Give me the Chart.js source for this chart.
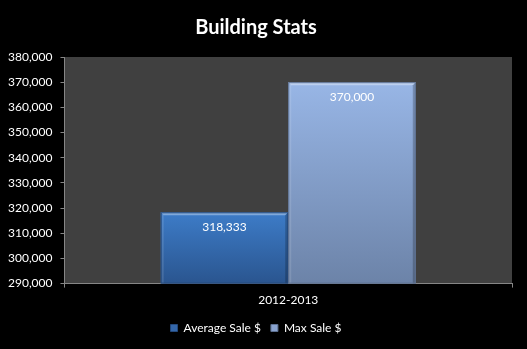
<!DOCTYPE html>
<html>
<head>
<meta charset="utf-8">
<script src="https://cdn.jsdelivr.net/npm/chart.js@4.4.1/dist/chart.umd.min.js"></script>
<style>
  html, body { margin: 0; padding: 0; background: #000; }
  #wrap { width: 527px; height: 349px; position: relative; }
</style>
</head>
<body>
<div id="wrap"><canvas id="stats-chart"></canvas></div>
<script>
// Chart data
const categories = ['2012-2013'];
const seriesNames = ['Average Sale $', 'Max Sale $'];
const averageSale = [318333];
const maxSale = [370000];
const yTickValues = [290000, 300000, 310000, 320000, 330000, 340000, 350000, 360000, 370000, 380000];

// top / bottom colours for each series
const barColors = [
  { top: '#3d7cc8', bottom: '#2a558f', edge: '#24497c', flat: '#3467aa' },
  { top: '#98b6e6', bottom: '#6c83a8', edge: '#5d7192', flat: '#8aa3cf' }
];

const fontFamily = 'Lato, "Open Sans", sans-serif';

function barGradient(idx) {
  return function(context) {
    const chart = context.chart;
    const area = chart.chartArea;
    if (!area || context.type !== 'data') return barColors[idx].flat;
    const y = chart.scales.y;
    const top = y.getPixelForValue(context.raw);
    const g = chart.ctx.createLinearGradient(0, top, 0, area.bottom);
    g.addColorStop(0, barColors[idx].top);
    g.addColorStop(1, barColors[idx].bottom);
    return g;
  };
}

// dark grey plot area
const plotBackground = {
  id: 'plotBackground',
  beforeDraw(chart) {
    const { ctx, chartArea } = chart;
    ctx.save();
    ctx.fillStyle = '#404040';
    ctx.fillRect(chartArea.left, chartArea.top, chartArea.right - chartArea.left, chartArea.bottom - chartArea.top);
    ctx.restore();
  }
};

// bevel edges and value labels on the bars
const barDecor = {
  id: 'barDecor',
  afterDatasetsDraw(chart) {
    const ctx = chart.ctx;
    const area = chart.chartArea;
    chart.data.datasets.forEach((ds, di) => {
      const meta = chart.getDatasetMeta(di);
      meta.data.forEach((bar, i) => {
        const p = bar.getProps(['x', 'y', 'base', 'width'], true);
        const left = p.x - p.width / 2;
        const right = p.x + p.width / 2;
        const top = p.y;
        const bottom = Math.min(p.base, area.bottom);
        ctx.save();
        // top highlight
        ctx.fillStyle = 'rgba(255,255,255,0.35)';
        ctx.beginPath();
        ctx.moveTo(left, top);
        ctx.lineTo(right, top);
        ctx.lineTo(right - 3, top + 3);
        ctx.lineTo(left + 3, top + 3);
        ctx.closePath();
        ctx.fill();
        // left light edge
        ctx.fillStyle = 'rgba(255,255,255,0.12)';
        ctx.beginPath();
        ctx.moveTo(left, top);
        ctx.lineTo(left + 3, top + 3);
        ctx.lineTo(left + 3, bottom);
        ctx.lineTo(left, bottom);
        ctx.closePath();
        ctx.fill();
        // right dark edge
        ctx.fillStyle = 'rgba(0,0,0,0.22)';
        ctx.beginPath();
        ctx.moveTo(right, top);
        ctx.lineTo(right - 3, top + 3);
        ctx.lineTo(right - 3, bottom);
        ctx.lineTo(right, bottom);
        ctx.closePath();
        ctx.fill();
        // outline
        ctx.strokeStyle = barColors[di].edge;
        ctx.lineWidth = 1;
        ctx.strokeRect(left + 0.5, top + 0.5, right - left - 1, bottom - top - 1);
        // value label
        ctx.fillStyle = '#ffffff';
        ctx.font = '12px ' + fontFamily;
        ctx.textAlign = 'center';
        ctx.textBaseline = 'middle';
        ctx.fillText(ds.data[i].toLocaleString('en-US'), p.x, top + 15);
        ctx.restore();
      });
    });
  }
};

const ctx = document.getElementById('stats-chart').getContext('2d');
const chart = new Chart(ctx, {
  type: 'bar',
  data: {
    labels: categories,
    datasets: [
      {
        label: seriesNames[0],
        data: averageSale,
        backgroundColor: barGradient(0),
        borderWidth: 0
      },
      {
        label: seriesNames[1],
        data: maxSale,
        backgroundColor: barGradient(1),
        borderWidth: 0
      }
    ]
  },
  options: {
    responsive: true,
    maintainAspectRatio: false,
    animation: false,
    layout: {
      padding: { left: 0, right: 15, top: 0, bottom: 5 }
    },
    datasets: {
      bar: { categoryPercentage: 0.57, barPercentage: 1 }
    },
    scales: {
      x: {
        grid: {
          display: true,
          drawOnChartArea: false,
          color: '#868686',
          tickLength: 4
        },
        border: { color: '#868686' },
        ticks: {
          color: '#ffffff',
          font: { family: fontFamily, size: 12 },
          padding: 5
        }
      },
      y: {
        min: yTickValues[0],
        max: yTickValues[yTickValues.length - 1],
        afterBuildTicks: function(axis) {
          axis.ticks = yTickValues.map(v => ({ value: v }));
        },
        grid: {
          display: true,
          drawOnChartArea: false,
          color: '#868686',
          tickLength: 4
        },
        border: { color: '#868686' },
        ticks: {
          color: '#ffffff',
          font: { family: fontFamily, size: 12 },
          padding: 8,
          callback: function(value) {
            return value.toLocaleString('en-US');
          }
        }
      }
    },
    plugins: {
      title: {
        display: true,
        text: 'Building Stats',
        color: '#ffffff',
        font: { family: fontFamily, size: 20, weight: 'bold' },
        padding: { top: 16, bottom: 17 }
      },
      legend: {
        position: 'bottom',
        labels: {
          color: '#ffffff',
          font: { family: fontFamily, size: 12 },
          boxWidth: 7,
          boxHeight: 7,
          padding: 10,
          generateLabels: function(chart) {
            return chart.data.datasets.map((ds, i) => ({
              text: ds.label,
              fillStyle: barColors[i].flat,
              strokeStyle: barColors[i].edge,
              lineWidth: 1,
              fontColor: '#ffffff',
              datasetIndex: i
            }));
          }
        }
      },
      tooltip: { enabled: false }
    }
  },
  plugins: [plotBackground, barDecor]
});
</script>
</body>
</html>
